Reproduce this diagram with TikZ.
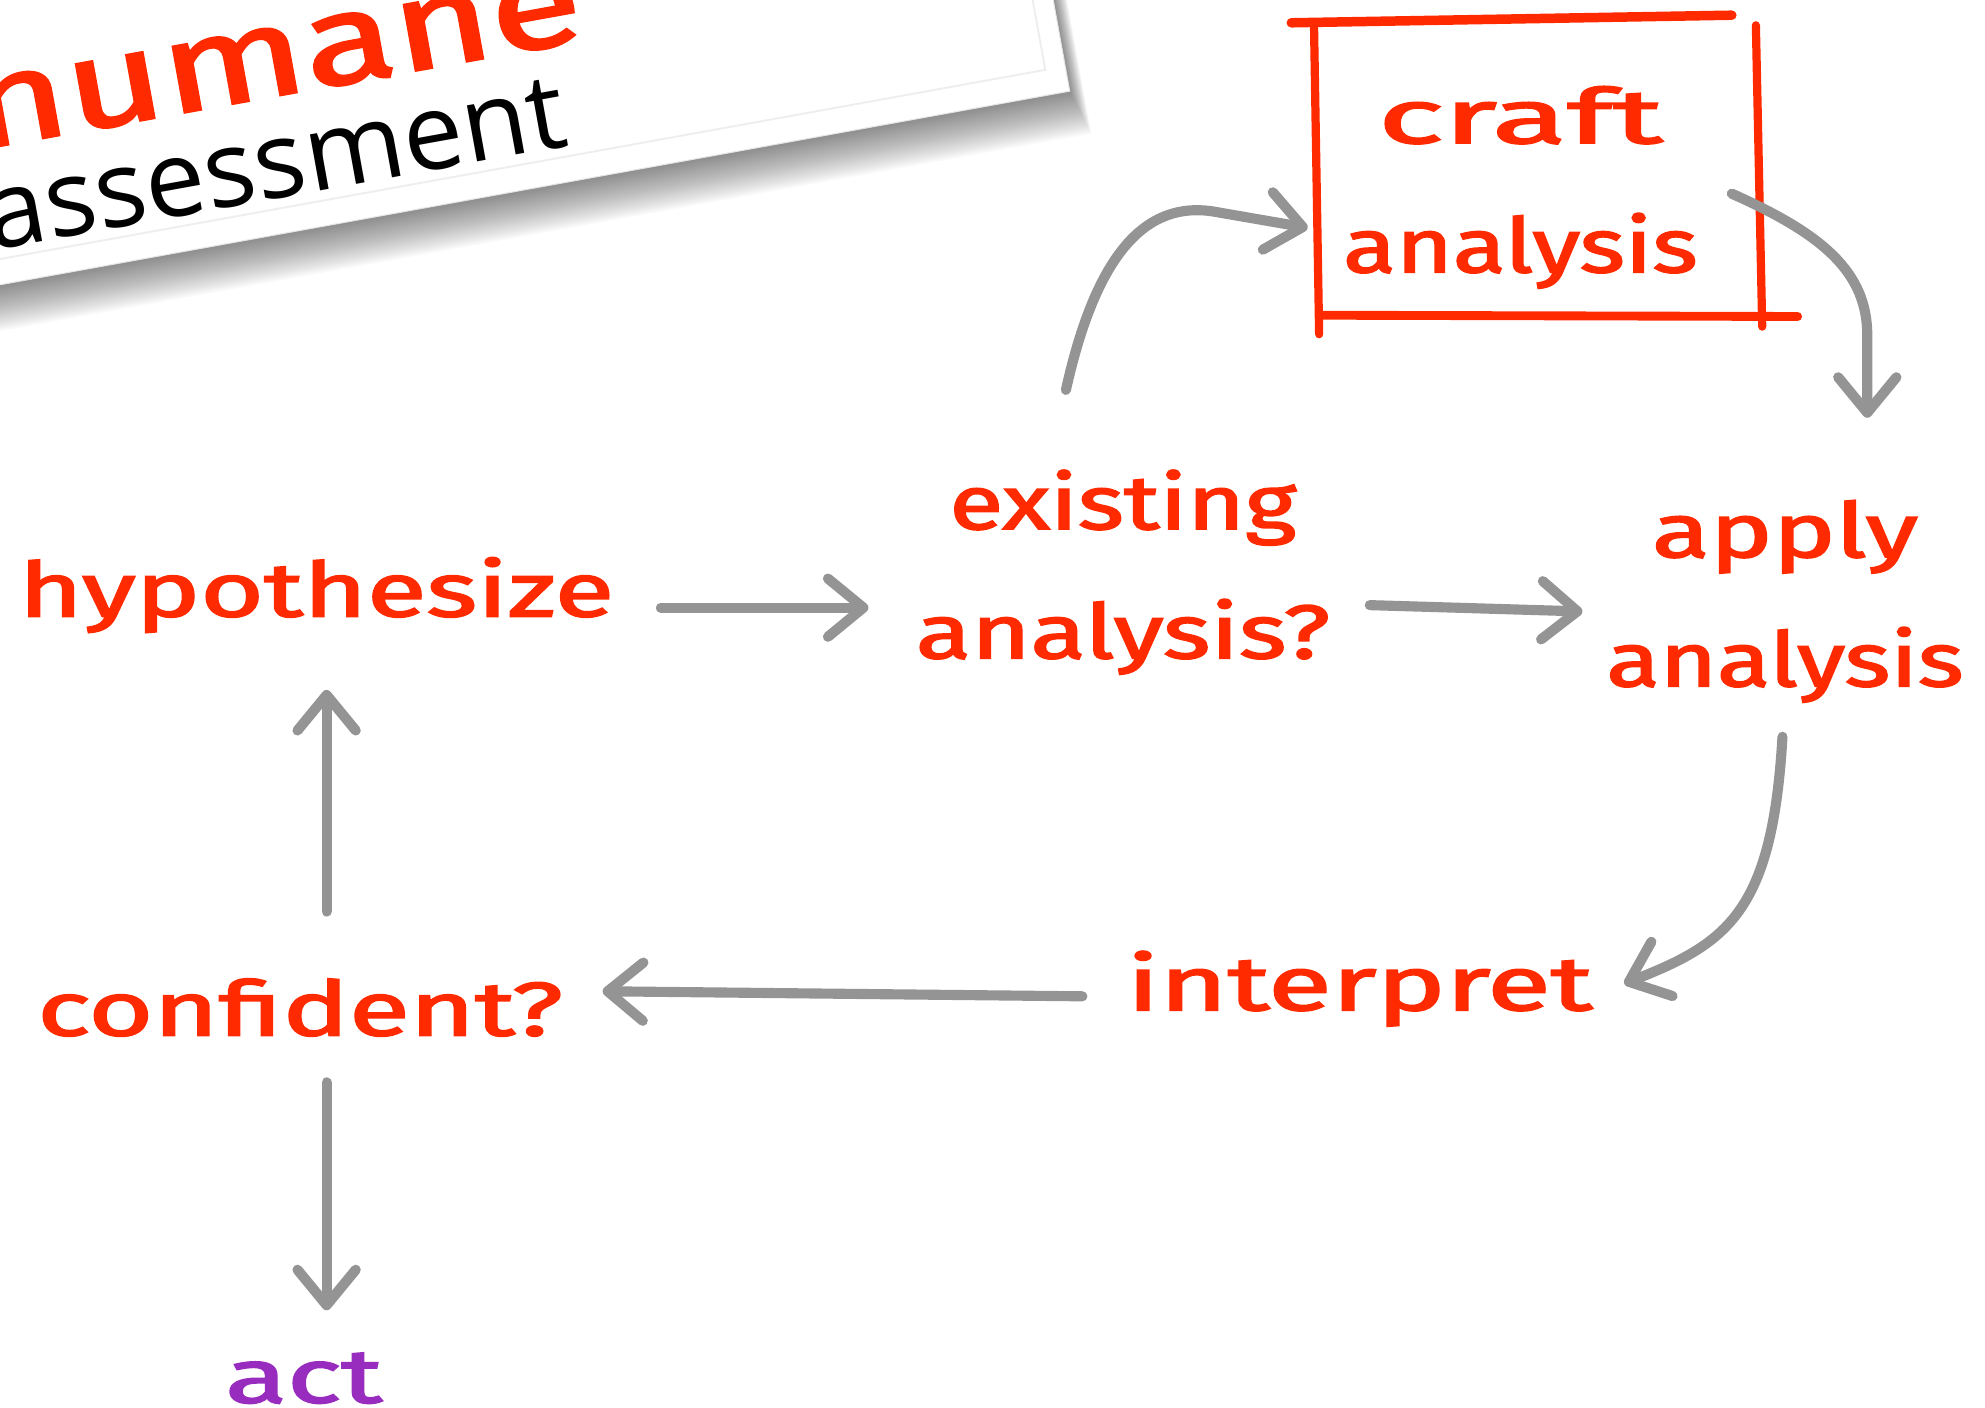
\documentclass[tikz,border=0pt]{standalone}
\usepackage{fontspec}
\setmainfont{Fira Sans}
\newfontfamily\handfont{Fira Sans}[FakeBold=2]
\newfontfamily\labelfont{Open Sans}
\usetikzlibrary{arrows.meta,calc}
\definecolor{inkred}{RGB}{255,42,0}
\definecolor{inkgray}{RGB}{148,148,148}
\definecolor{inkpurple}{RGB}{152,44,190}
\definecolor{cardline}{RGB}{238,238,238}
% stretch a word to a given width, keeping its height
\newcommand\hw[2]{\resizebox{#1}{\height}{#2}}
\begin{document}
\begin{tikzpicture}[x=1pt,y=-1pt,
  hand/.style={font=\handfont\fontsize{60}{102}\selectfont, text=inkred, inner sep=0pt, align=center},
  flow/.style={draw=inkgray, line width=8pt, line cap=round,
    -{Straight Barb[length=28pt,width=46pt,round]}},
  brush/.style={draw=inkred, line width=6.5pt, line cap=round},
]
\useasboundingbox (0,0) rectangle (1568,1112);
\clip (0,0) rectangle (1568,1112);

% tilted title card with its soft shadow
\begin{scope}[shift={(845,72)}, rotate=10.26]
  \foreach \i in {1,...,24}
    \fill[black, opacity=0.024] (-1200,-500) rectangle (0.45*\i, 1.5*\i);
  \fill[white, draw=black!10, line width=0.8pt] (-1200,-500) rectangle (0,0);
  \draw[cardline, line width=1.5pt] (-1200,-20) -- (-16,-20) -- (-16,-500);
  \node[transform shape, anchor=base west, inner sep=0pt, text=inkred,
        font=\handfont\fontsize{100}{100}\selectfont] (humane) at (-858,-108) {\hw{490pt}{humane}};
  \node[transform shape, anchor=base west, inner sep=0pt, text=black,
        font=\labelfont\fontsize{84}{90}\selectfont] (assess) at (-860,-28) {\hw{464pt}{assessment}};
\end{scope}

% steps of the loop
\node[hand, anchor=base] (hyp) at (250,487) {\hw{470pt}{hypothesize}};
\node[hand] (exist) at (887,452) {\hw{274pt}{existing}\\\hw{327pt}{analysis?}};
\node[hand] (apply) at (1410,475) {\hw{210pt}{apply}\\\hw{282pt}{analysis}};
\node[hand] (craft) at (1201,148) {\hw{225pt}{craft}\\\hw{280pt}{analysis}};
\node[hand, anchor=base] (interp) at (1074,798) {\hw{368pt}{interpret}};
\node[hand, anchor=base] (conf) at (237,818) {\hw{415pt}{confident?}};
\node[hand, anchor=base, text=inkpurple] (act) at (240,1108) {\hw{124pt}{act}};

% sketched frame round the craft step
\begin{scope}[shift={(craft.center)}]
  \draw[brush, line width=7.5pt] (-181,-130) -- (167,-136);
  \draw[brush] (-163,-126) -- (-159,116);
  \draw[brush] (186,-128) -- (191,110);
  \draw[brush, line width=7pt] (-156,101) -- (219,102);
\end{scope}

% connectors
\draw[flow] ([shift={(272,-7)}]hyp.base) -- ([shift={(-201,28)}]exist.center);
\draw[flow] ([shift={(195,26)}]exist.center) -- ([shift={(-160,8)}]apply.center);
\draw[flow] ([shift={(-45,-144)}]exist.center) .. controls (866,200) and (905,159) .. (958,167)
  -- ([shift={(-168,32)}]craft.center);
\draw[flow] ([shift={(167,5)}]craft.center) .. controls (1440,185) and (1475,215) .. (1475,265)
  -- ([shift={(65,-145)}]apply.center);
\draw[flow] ([shift={(-2,107)}]apply.center) .. controls (1400,720) and (1365,745)
  .. ([shift={(209,-21)}]interp.base);
\draw[flow] ([shift={(-219,-11)}]interp.base) -- ([shift={(239,-35)}]conf.base);
\draw[flow] ([shift={(21,-98)}]conf.base) -- ([shift={(8,58)}]hyp.base);
\draw[flow] ([shift={(21,37)}]conf.base) -- ([shift={(18,-73)}]act.base);
\end{tikzpicture}
\end{document}
